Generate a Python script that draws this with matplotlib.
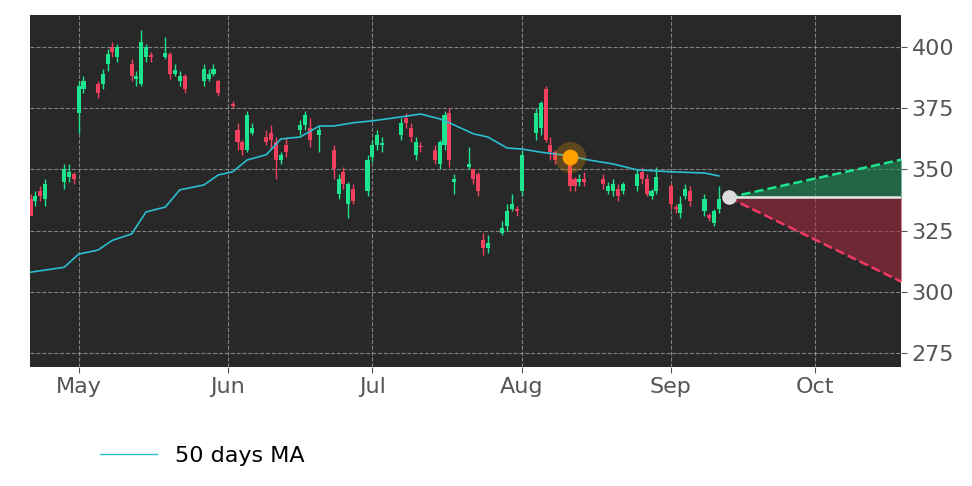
import matplotlib
matplotlib.use("Agg")
import matplotlib.pyplot as plt
import matplotlib.dates as mdates
import pandas as pd
import numpy as np

excluded = ['2025-04-25', '2025-05-26', '2025-06-19', '2025-07-04', '2025-08-15']
dates = [d for d in pd.bdate_range('2025-04-21', '2025-09-11') if d.strftime('%Y-%m-%d') not in excluded]

opens = [338, 337, 341, 338,
         345, 347, 348, 373, 383,
         385, 385, 393, 400, 396,
         393, 387, 385, 396, 396.5,
         396, 397, 389, 386, 388,
         386, 387, 389, 386,
         376.5, 366, 361, 358, 365,
         363, 365, 361, 354, 360,
         366, 368, 367, 364,
         358, 340, 349, 336, 342,
         341, 355, 360, 360,
         364, 371, 367, 356, 359.5,
         358, 352, 360, 373, 345,
         351, 350, 348, 321, 318,
         324, 327, 334, 333.5, 341,
         365, 367, 383, 360, 357,
         355, 346, 345, 346,
         346, 341, 341, 342, 341,
         343, 349, 346, 339, 341,
         343, 334.5, 332, 339, 341,
         333, 331.5, 328, 334]
closes = [331, 339, 339, 344,
          350, 349, 346, 384, 386,
          381, 389, 397, 398, 400,
          388, 388, 402, 400, 396,
          397.5, 389, 390.5, 388, 383,
          391, 389, 391, 381,
          376, 361, 358, 372, 367,
          361, 362, 354, 356, 357,
          368, 372, 362, 366,
          350, 346, 344, 344, 337,
          354, 360, 364, 360.5,
          369, 369, 363, 361, 359,
          354, 361, 372, 354, 346,
          352, 346, 341, 318, 320,
          326, 333, 336, 333, 356,
          373, 377, 362, 357, 354,
          343, 343, 346, 345,
          344, 343, 344, 339, 344,
          348, 346, 340, 341, 347,
          336, 334, 336, 342, 337,
          338, 330, 333, 338]
highs = [340, 341, 343, 346,
         352, 352, 349, 386, 388,
         386, 391, 399, 402, 401,
         395, 390, 407, 401, 398,
         404, 398, 393, 390, 389,
         393, 391, 393, 387,
         378, 369, 362, 374, 369,
         366, 368, 363, 357, 363,
         370, 374, 371, 368,
         360, 348, 351, 345, 344,
         356, 362, 366, 363,
         371, 373, 369, 363, 361,
         360, 362, 374, 375, 348,
         359, 349, 349, 324, 323,
         329, 336, 340, 335, 358,
         375, 378, 384, 363, 358,
         357, 347, 348, 349,
         348, 345, 346, 344, 345,
         350, 351, 348, 342, 351,
         344, 336, 339, 344, 343,
         340, 332, 334, 343]
lows = [335, 335, 337, 335,
        342, 345, 344, 365, 381,
        379, 383, 390, 396, 394,
        386, 384, 384, 394, 394,
        395, 387, 388, 384, 381,
        384, 386, 388, 380,
        375, 358, 356, 357, 364,
        360, 358, 346, 352, 355,
        364, 366, 359, 357,
        346, 338, 342, 330, 336,
        339, 353, 358, 357,
        362, 367, 361, 354, 357,
        352, 350, 358, 351, 340,
        350, 344, 339, 315, 316,
        323, 325, 333, 331, 339,
        362, 364, 361, 354, 352,
        341, 341, 343, 343,
        342, 340, 339, 337, 340,
        341, 344, 339, 338, 340,
        334, 332, 330, 338, 335,
        331, 329, 327, 332]

ma_dates = ['2025-04-21', '2025-04-28', '2025-05-01', '2025-05-05', '2025-05-08', '2025-05-12',
            '2025-05-15', '2025-05-19', '2025-05-22', '2025-05-27', '2025-05-30', '2025-06-02',
            '2025-06-05', '2025-06-09', '2025-06-12', '2025-06-16', '2025-06-20', '2025-06-23',
            '2025-06-27', '2025-07-01', '2025-07-07', '2025-07-11', '2025-07-15', '2025-07-17',
            '2025-07-22', '2025-07-25', '2025-07-29', '2025-08-01', '2025-08-05', '2025-08-11',
            '2025-08-15', '2025-08-20', '2025-08-25', '2025-09-01', '2025-09-08', '2025-09-11']
ma_values = [308, 310, 315.4, 317, 321, 323.6, 332.6, 334.6, 341.6, 343.6, 347.7, 349,
             353.8, 356, 362.4, 363.2, 367.7, 367.7, 369, 369.8, 371.4, 372.6, 370.6, 369,
             364.5, 363.2, 358.7, 358.3, 357, 355.5, 353.8, 352.2, 349.8, 349, 348.5, 347.3]

signal_date = '2025-08-11'
signal_value = 355
proj_start_date = '2025-09-13'
proj_end_date = '2025-10-19'
proj_start = 338.5
proj_upper = 354
proj_lower = 304

GREEN = '#1de58d'
RED = '#f0405e'

fig = plt.figure(figsize=(9.72, 4.86), dpi=100)
fig.patch.set_facecolor('white')
ax = fig.add_axes([0.031, 0.245, 0.896, 0.724])
ax.set_facecolor('#282828')

x = mdates.date2num(dates)
for xi, o, c, h, l in zip(x, opens, closes, highs, lows):
    col = GREEN if c >= o else RED
    ax.vlines(xi, l, h, color=col, linewidth=1, zorder=3)
    ax.bar(xi, max(abs(c - o), 0.7), bottom=min(o, c), width=0.85, color=col, zorder=4, linewidth=0)

ax.plot(mdates.date2num(pd.to_datetime(ma_dates)), ma_values, color='#2bbdd0', linewidth=1.2, zorder=5)

sx = mdates.date2num(pd.Timestamp(signal_date))
ax.scatter([sx], [signal_value], s=500, color='#ff9f00', alpha=0.25, zorder=6, linewidths=0)
ax.scatter([sx], [signal_value], s=130, color='#ff9f00', zorder=7, linewidths=0)

p0 = mdates.date2num(pd.Timestamp(proj_start_date))
p1 = mdates.date2num(pd.Timestamp(proj_end_date))
ax.fill_between([p0, p1], [proj_start, proj_start], [proj_start, proj_upper], color='#1d8f5a', alpha=0.6, zorder=2, linewidth=0)
ax.fill_between([p0, p1], [proj_start, proj_start], [proj_start, proj_lower], color='#a8293f', alpha=0.55, zorder=2, linewidth=0)
ax.plot([p0, p1], [proj_start, proj_upper], color=GREEN, linestyle='--', linewidth=1.8, zorder=5)
ax.plot([p0, p1], [proj_start, proj_lower], color='#f03a63', linestyle='--', linewidth=1.8, zorder=5)
ax.plot([p0, p1], [proj_start, proj_start], color='#e8e8e8', linewidth=1.8, zorder=5)
ax.scatter([p0], [proj_start], s=110, color='#dddddd', zorder=8, linewidths=0)

ax.set_xlim(mdates.date2num(pd.Timestamp('2025-04-20 22:00')), mdates.date2num(pd.Timestamp('2025-10-18 20:00')))
ax.set_ylim(269.3, 413)
ax.yaxis.tick_right()
ax.set_yticks([275, 300, 325, 350, 375, 400])
ax.xaxis.set_major_locator(mdates.MonthLocator())
ax.xaxis.set_major_formatter(mdates.DateFormatter('%b'))
ax.tick_params(axis='both', colors='#555555', labelsize=16, length=4)
ax.grid(True, color='#9a9a9a', linestyle='--', linewidth=0.8, alpha=0.8)
for s in ax.spines.values():
    s.set_visible(False)

from matplotlib.lines import Line2D
handle = Line2D([0], [0], color='#2bbdd0', linewidth=1)
fig.legend([handle], ['50 days MA'], loc='center left', bbox_to_anchor=(0.082, 0.062),
           frameon=False, fontsize=16, handlelength=2.6)

fig.savefig('out.png', dpi=100, facecolor='white')
